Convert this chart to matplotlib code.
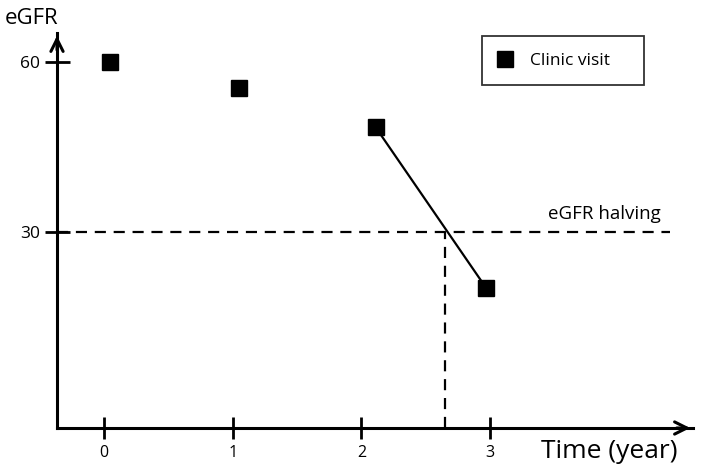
import matplotlib
matplotlib.use("Agg")
import matplotlib.pyplot as plt

plt.rcParams['font.family'] = ['Open Sans', 'DejaVu Sans']

# data
visit_years = [0.05, 1.05, 2.11, 2.97]
visit_egfr = [60, 55.4, 48.5, 20.1]
halving_level = 30
halving_year = 2.65
halving_line_end = 4.40
x_ticks = [0, 1, 2, 3]
y_ticks = [30, 60]

W, H = 701, 470
fig = plt.figure(figsize=(W / 100, H / 100), dpi=100)

# axes box in pixels: left spine at x=57, bottom spine at y=428, arrows end at 693 / 33
left, bottom, right, top = 57, 428, 693, 33
ax = fig.add_axes([left / W, (H - bottom) / H, (right - left) / W, (bottom - top) / H])
ax.set_xlim(-0.365, 4.577)
ax.set_ylim(-4.59, 65.1)

for side in ['top', 'right']:
    ax.spines[side].set_visible(False)
for side in ['left', 'bottom']:
    ax.spines[side].set_linewidth(2.2)

ax.set_xticks(x_ticks)
ax.set_yticks(y_ticks)
ax.tick_params(axis='x', direction='inout', length=16, width=2.0, labelsize=11.5, pad=4)
ax.tick_params(axis='y', direction='inout', length=18, width=2.0, labelsize=12.5, pad=3)

# arrow heads on the axes
ax.annotate('', xy=(1.0, 0), xytext=(0.97, 0), xycoords='axes fraction',
            arrowprops=dict(arrowstyle='->', lw=2.2, mutation_scale=22, color='black'))
ax.annotate('', xy=(0, 1.0), xytext=(0, 0.95), xycoords='axes fraction',
            arrowprops=dict(arrowstyle='->', lw=2.2, mutation_scale=22, color='black'))

# halving reference lines
ax.plot([ax.get_xlim()[0], halving_line_end], [halving_level, halving_level],
        color='black', lw=1.6, dashes=(5, 3.5), clip_on=False)
ax.plot([halving_year, halving_year], [ax.get_ylim()[0], halving_level],
        color='black', lw=1.6, dashes=(5, 3.5), clip_on=False)
ax.text(3.89, halving_level + 1.5, 'eGFR halving', ha='center', va='bottom', fontsize=13.5)

# slope between last two visits
ax.plot(visit_years[2:], visit_egfr[2:], color='black', lw=1.6)

ax.plot(visit_years, visit_egfr, linestyle='none', marker='s', markersize=12,
        color='black', label='Clinic visit    ', clip_on=False)

leg = ax.legend(loc='upper left', bbox_to_anchor=(482 / W, 1 - 36 / H),
                bbox_transform=fig.transFigure, frameon=True, fancybox=False,
                edgecolor='black', fontsize=12.5, borderpad=0.95, handlelength=0.8,
                handletextpad=1.0, borderaxespad=0)
leg.get_frame().set_linewidth(1.3)

fig.text(5 / W, 1 - 19 / H, 'eGFR', ha='left', va='center', fontsize=16)
fig.text(541 / W, 1 - 452 / H, 'Time (year)', ha='left', va='center', fontsize=19)

fig.savefig('out.png', dpi=100)
